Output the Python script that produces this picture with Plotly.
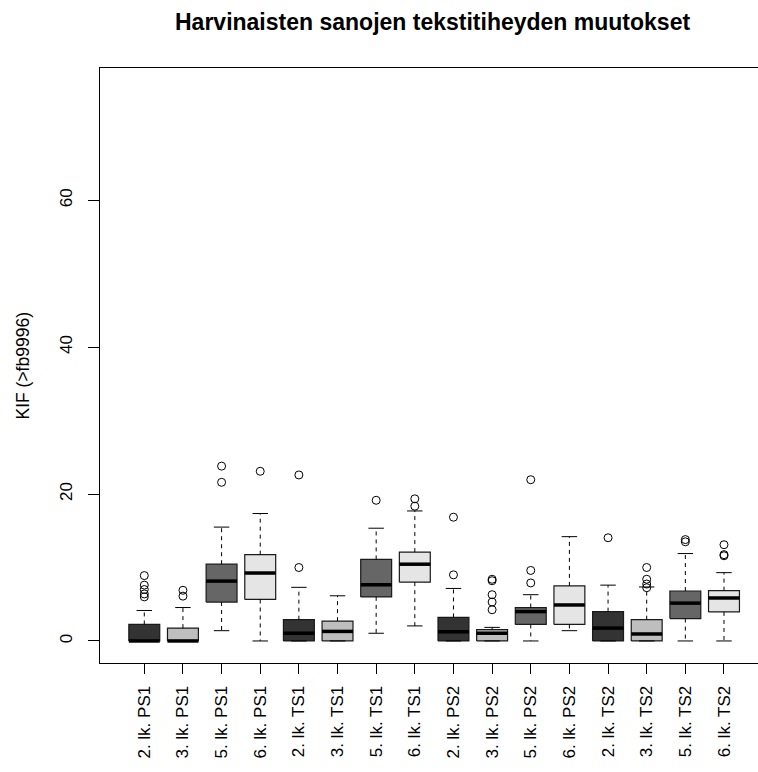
import plotly.graph_objects as go

# Group labels (grade + test round)
labels = ["2. lk. PS1", "3. lk. PS1", "5. lk. PS1", "6. lk. PS1",
          "2. lk. TS1", "3. lk. TS1", "5. lk. TS1", "6. lk. TS1",
          "2. lk. PS2", "3. lk. PS2", "5. lk. PS2", "6. lk. PS2",
          "2. lk. TS2", "3. lk. TS2", "5. lk. TS2", "6. lk. TS2"]

# Five-number summaries per group
lower_whisker = [0, 0, 1.4, 0, 0, 0, 1.05, 2.05, 0, 0, 0, 1.4, 0, 0, 0, 0]
q1 = [0, 0, 5.3, 5.65, 0, 0, 6.0, 8.0, 0, 0, 2.25, 2.25, 0, 0, 3.05, 3.95]
median = [0, 0, 8.15, 9.25, 1.05, 1.3, 7.65, 10.45, 1.25, 1.05, 4.0, 4.9, 1.75, 0.95, 5.15, 5.85]
q3 = [2.25, 1.75, 10.45, 11.75, 2.9, 2.7, 11.1, 12.1, 3.2, 1.55, 4.55, 7.5, 4.0, 2.9, 6.8, 6.85]
upper_whisker = [4.15, 4.55, 15.5, 17.35, 7.3, 6.15, 15.35, 17.7, 7.15, 1.85, 6.3, 14.2, 7.6, 7.35, 11.9, 9.3]

# Outlying observations per group
outliers = [
    [8.9, 7.6, 7.0, 6.4, 6.0],
    [6.9, 6.1],
    [23.8, 21.6],
    [23.1],
    [10.0, 22.6],
    [],
    [19.15],
    [19.35, 18.35],
    [9.0, 16.85],
    [8.4, 8.2, 6.3, 5.3, 4.25],
    [7.9, 9.6, 21.95],
    [],
    [14.05],
    [10.0, 8.4, 7.75, 7.25],
    [13.8, 13.5],
    [13.1, 11.75, 11.6],
]

# Fill shades cycle by grade
fills = ["#333333", "#bebebe", "#666666", "#e5e5e5"]

BOX_HALF = 0.4
CAP_HALF = 0.2

fig = go.Figure()

# Boxes, one trace per shade
for k, col in enumerate(fills):
    xs, ys = [], []
    for i in range(k, len(labels), 4):
        p = i + 1
        xs += [p - BOX_HALF, p + BOX_HALF, p + BOX_HALF, p - BOX_HALF, p - BOX_HALF, None]
        ys += [q1[i], q1[i], q3[i], q3[i], q1[i], None]
    fig.add_trace(go.Scatter(x=xs, y=ys, mode="lines", fill="toself",
                             fillcolor=col, line=dict(color="#1a1a1a", width=1.2),
                             hoverinfo="skip", showlegend=False))

# Dashed whiskers
wx, wy = [], []
for i in range(len(labels)):
    p = i + 1
    wx += [p, p, None, p, p, None]
    wy += [q3[i], upper_whisker[i], None, q1[i], lower_whisker[i], None]
fig.add_trace(go.Scatter(x=wx, y=wy, mode="lines",
                         line=dict(color="black", width=1, dash="4px,4px"),
                         hoverinfo="skip", showlegend=False))

# Whisker caps
cx, cy = [], []
for i in range(len(labels)):
    p = i + 1
    cx += [p - CAP_HALF, p + CAP_HALF, None, p - CAP_HALF, p + CAP_HALF, None]
    cy += [upper_whisker[i], upper_whisker[i], None, lower_whisker[i], lower_whisker[i], None]
fig.add_trace(go.Scatter(x=cx, y=cy, mode="lines",
                         line=dict(color="black", width=1),
                         hoverinfo="skip", showlegend=False))

# Medians
mx, my = [], []
for i in range(len(labels)):
    p = i + 1
    mx += [p - BOX_HALF, p + BOX_HALF, None]
    my += [median[i], median[i], None]
fig.add_trace(go.Scatter(x=mx, y=my, mode="lines",
                         line=dict(color="black", width=3.5),
                         hoverinfo="skip", showlegend=False))

# Outliers
ox, oy = [], []
for i, vals in enumerate(outliers):
    for v in vals:
        ox.append(i + 1)
        oy.append(v)
fig.add_trace(go.Scatter(x=ox, y=oy, mode="markers",
                         marker=dict(symbol="circle-open", size=8,
                                     color="black", line=dict(width=1)),
                         hoverinfo="skip", showlegend=False))

font_family = "Liberation Sans, Arial, sans-serif"

fig.update_layout(
    width=758, height=772,
    margin=dict(l=100, r=0, t=68, b=109),
    paper_bgcolor="white", plot_bgcolor="white",
    font=dict(family=font_family, size=17, color="black"),
    showlegend=False,
    xaxis=dict(
        range=[-0.146, 16.88],
        tickmode="array",
        tickvals=list(range(1, len(labels) + 1)),
        ticktext=labels,
        tickangle=-90,
        ticks="outside", ticklen=10, tickcolor="black", tickwidth=1,
        showline=True, linecolor="black", linewidth=1, mirror=True,
        showgrid=False, zeroline=False,
        ticklabelstandoff=5,
    ),
    yaxis=dict(
        range=[-3, 78],
        tickmode="array",
        tickvals=[0, 20, 40, 60],
        ticktext=["0", "20", "40", "60"],
        tickangle=-90,
        ticks="outside", ticklen=11, tickcolor="black", tickwidth=1,
        showline=True, linecolor="black", linewidth=1, mirror=False,
        showgrid=False, zeroline=False,
        ticklabelstandoff=9,
    ),
    annotations=[
        dict(text="<b>Harvinaisten sanojen tekstitiheyden muutokset</b>",
             xref="paper", yref="paper", x=0.5046, y=1.0773,
             xanchor="center", yanchor="middle", showarrow=False,
             font=dict(size=23, family=font_family, color="black")),
        dict(text="KIF (>fb9996)",
             xref="paper", yref="paper", x=-0.1185, y=0.5,
             xanchor="center", yanchor="middle", showarrow=False,
             textangle=-90,
             font=dict(size=17.5, family=font_family, color="black")),
    ],
)

fig.write_html("out.html")
